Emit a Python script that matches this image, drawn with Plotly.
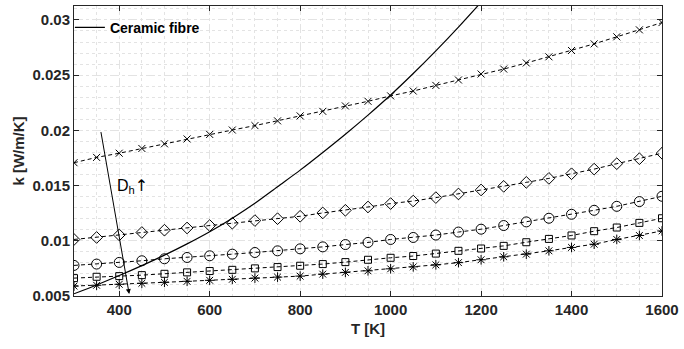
import plotly.graph_objects as go

T = [300, 350, 400, 450, 500, 550, 600, 650, 700, 750, 800, 850, 900, 950, 1000,
     1050, 1100, 1150, 1200, 1250, 1300, 1350, 1400, 1450, 1500, 1550, 1600]

k_x = [0.01707, 0.01755, 0.01793, 0.01836, 0.01878, 0.01922, 0.01963, 0.02003, 0.02043,
       0.02086, 0.02131, 0.02172, 0.02221, 0.02263, 0.02312, 0.02356, 0.02407, 0.02456,
       0.02510, 0.02555, 0.02610, 0.02666, 0.02723, 0.02783, 0.02847, 0.02910, 0.02976]
k_diamond = [0.01012, 0.01030, 0.01053, 0.01075, 0.01096, 0.01116, 0.01138, 0.01159, 0.01183,
             0.01200, 0.01222, 0.01252, 0.01276, 0.01306, 0.01337, 0.01360, 0.01391, 0.01424,
             0.01460, 0.01493, 0.01529, 0.01565, 0.01607, 0.01649, 0.01698, 0.01743, 0.01793]
k_circle = [0.00777, 0.00789, 0.00804, 0.00819, 0.00837, 0.00849, 0.00864, 0.00879, 0.00894,
            0.00909, 0.00927, 0.00945, 0.00966, 0.00985, 0.01012, 0.01030, 0.01052, 0.01079,
            0.01105, 0.01138, 0.01171, 0.01204, 0.01240, 0.01276, 0.01312, 0.01355, 0.01403]
k_square = [0.00662, 0.00674, 0.00680, 0.00689, 0.00701, 0.00714, 0.00726, 0.00737, 0.00750,
            0.00762, 0.00774, 0.00789, 0.00807, 0.00828, 0.00846, 0.00862, 0.00884, 0.00909,
            0.00930, 0.00954, 0.00987, 0.01017, 0.01048, 0.01087, 0.01120, 0.01162, 0.01204]
k_star = [0.00590, 0.00597, 0.00606, 0.00615, 0.00624, 0.00633, 0.00642, 0.00651, 0.00662,
          0.00671, 0.00680, 0.00698, 0.00714, 0.00728, 0.00746, 0.00764, 0.00782, 0.00802,
          0.00828, 0.00855, 0.00879, 0.00909, 0.00940, 0.00969, 0.01012, 0.01048, 0.01089]

T_ceramic = [300, 350, 400, 450, 500, 550, 600, 650, 700, 750, 800, 850, 900, 950, 1000,
             1050, 1100, 1150, 1200]
k_ceramic = [0.0052, 0.0060, 0.00685, 0.00775, 0.0087, 0.00972, 0.01082, 0.01205, 0.0134,
             0.0149, 0.0164, 0.0180, 0.01965, 0.02138, 0.0232, 0.02515, 0.0272, 0.02935, 0.0316]

x_ticks = [400, 600, 800, 1000, 1200, 1400, 1600]
y_ticks = [0.005, 0.01, 0.015, 0.02, 0.025, 0.03]
y_ticktext = ["0.005", "0.01", "0.015", "0.02", "0.025", "0.03"]

# arrow (tail -> head) and label
arrow_tail = (359, 0.01998)
arrow_head = (422, 0.00518)
label_pos = (390, 0.0150)

FONT = "Liberation Sans, Arial, Helvetica, sans-serif"
AX = "#262626"
GRID = "#e3e3e3"

fig = go.Figure()

series = [
    (k_x, "x-thin-open", 7),
    (k_diamond, "diamond-open", 9),
    (k_circle, "circle-open", 10),
    (k_square, "square-open", 7),
    (k_star, "asterisk-open", 8),
]
for vals, sym, sz in series:
    fig.add_trace(go.Scatter(
        x=T, y=vals, mode="lines+markers", showlegend=False,
        line=dict(color="black", width=1, dash="4px,3px"),
        marker=dict(symbol=sym, size=sz, color="black",
                    line=dict(color="black", width=1)),
    ))

fig.add_trace(go.Scatter(
    x=T_ceramic, y=k_ceramic, mode="lines", name="<b>Ceramic fibre</b>",
    line=dict(color="black", width=1.2, shape="spline", smoothing=0.8),
))

fig.add_annotation(
    x=arrow_head[0], y=arrow_head[1], ax=arrow_tail[0], ay=arrow_tail[1],
    xref="x", yref="y", axref="x", ayref="y", text="", showarrow=True,
    arrowhead=2, arrowsize=1, arrowwidth=1, arrowcolor="black", standoff=0,
)
fig.add_annotation(
    x=label_pos[0], y=label_pos[1], xref="x", yref="y", showarrow=False,
    text="D<sub>h</sub><span style='font-family:DejaVu Sans;color:black'>↑</span>",
    xanchor="left", yanchor="middle",
    font=dict(family=FONT, size=16, color="black"),
)

axis_common = dict(
    showline=True, linecolor=AX, linewidth=1, mirror="ticks",
    ticks="inside", ticklen=5, tickcolor=AX, tickwidth=1,
    showgrid=True, gridcolor=GRID, griddash="dash", gridwidth=1,
    zeroline=False,
    tickfont=dict(family=FONT, size=15, color=AX, weight="bold"),
)

fig.update_xaxes(
    range=[300, 1600], tickvals=x_ticks,
    title=dict(text="<b>T [K]</b>", font=dict(family=FONT, size=15, color=AX), standoff=6),
    minor=dict(dtick=50, tick0=0, showgrid=True, gridcolor=GRID, griddash="dot", ticks=""),
    **axis_common,
)
fig.update_yaxes(
    range=[0.005, 0.03126], tickvals=y_ticks, ticktext=y_ticktext,
    title=dict(text="<b>k [W/m/K]</b>", font=dict(family=FONT, size=15, color=AX), standoff=4),
    minor=dict(dtick=0.001, tick0=0, showgrid=True, gridcolor=GRID, griddash="dot", ticks=""),
    **axis_common,
)

fig.update_layout(
    width=684, height=349,
    margin=dict(l=74, r=19, t=5, b=53),
    paper_bgcolor="white", plot_bgcolor="white",
    legend=dict(x=-0.007, y=0.98, xanchor="left", yanchor="top",
                bgcolor="rgba(0,0,0,0)", borderwidth=0,
                font=dict(family=FONT, size=14, color="black")),
)

fig.write_html("out.html")
